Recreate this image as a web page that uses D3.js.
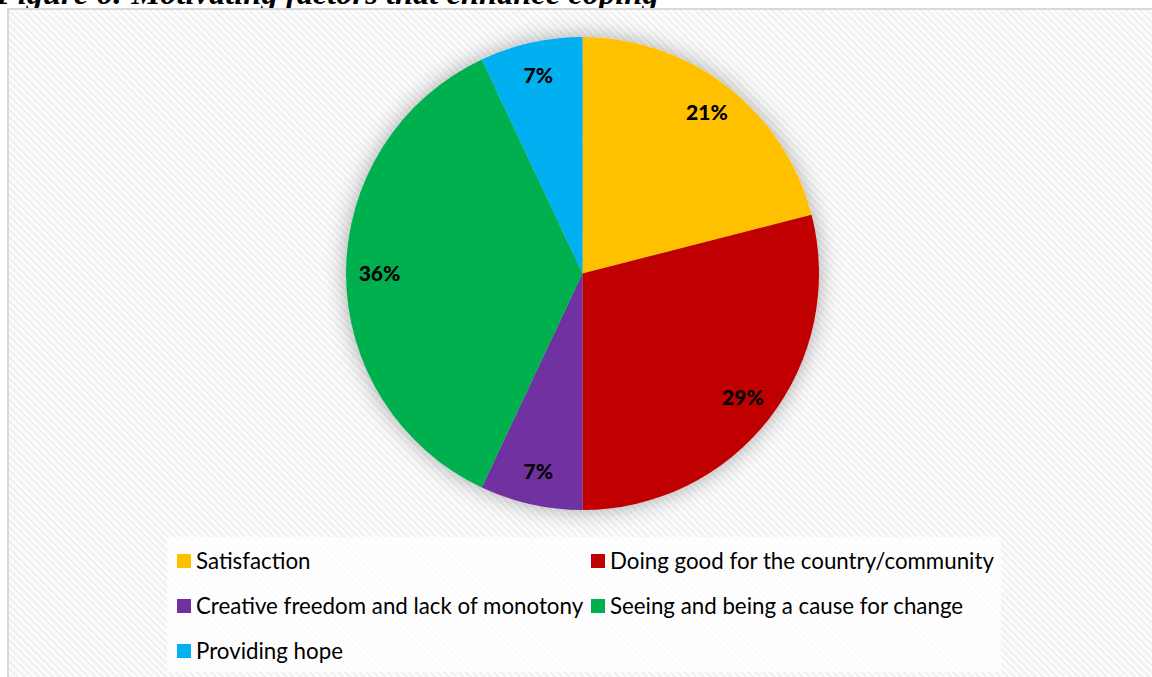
<!DOCTYPE html>
<html>
<head>
<meta charset="utf-8">
<script src="https://cdn.jsdelivr.net/npm/d3@7"></script>
<style>
  html, body { margin: 0; padding: 0; background: #ffffff; }
  svg { display: block; }
</style>
</head>
<body>
<svg id="chart" width="1152" height="677"></svg>
<script>
// Motivating factors that enhance coping (share of responses, %)
const categories = [
  "Satisfaction",
  "Doing good for the country/community",
  "Creative freedom and lack of monotony",
  "Seeing and being a cause for change",
  "Providing hope"
];
const values = [21, 29, 7, 36, 7];
const colors = ["#FFC000", "#C00000", "#7030A0", "#00B050", "#00B0F0"];
const titleText = "Figure 6: Motivating factors that enhance coping";

const W = 1152, H = 677;
const svg = d3.select("#chart");
const defs = svg.append("defs");

// Diagonal hatch used as the chart-area fill
const pat = defs.append("pattern")
  .attr("id", "hatch")
  .attr("patternUnits", "userSpaceOnUse")
  .attr("width", 5).attr("height", 5)
  .attr("patternTransform", "rotate(45)");
pat.append("rect").attr("width", 5).attr("height", 5).attr("fill", "#fdfdfd");
pat.append("rect").attr("width", 5).attr("height", 2.2).attr("fill", "#f0f0f0");

// Soft shadow around the pie
const f = defs.append("filter").attr("id", "pieShadow")
  .attr("x", "-20%").attr("y", "-20%").attr("width", "140%").attr("height", "140%");
f.append("feDropShadow")
  .attr("dx", 0).attr("dy", 0)
  .attr("stdDeviation", 11)
  .attr("flood-color", "#000")
  .attr("flood-opacity", 0.33);

// Title (sits just above the chart frame)
svg.append("text")
  .attr("x", -4).attr("y", 4)
  .attr("font-family", "'Liberation Serif', 'DejaVu Serif', serif")
  .attr("font-weight", "bold")
  .attr("font-style", "italic")
  .attr("font-size", 32.5)
  .attr("fill", "#000")
  .text(titleText);

// Chart frame
svg.append("rect")
  .attr("x", 8).attr("y", 9)
  .attr("width", W + 10).attr("height", H + 10)
  .attr("fill", "url(#hatch)")
  .attr("stroke", "#d9d9d9")
  .attr("stroke-width", 2);

// Pie
const cx = 582.5, cy = 273.5, R = 236.5;
const pie = d3.pie().sort(null).value(d => d);
const arcs = pie(values);
const arc = d3.arc().innerRadius(0).outerRadius(R);
const labelArc = d3.arc().innerRadius(203).outerRadius(203);

const g = svg.append("g").attr("transform", `translate(${cx},${cy})`);
g.append("g").attr("filter", "url(#pieShadow)")
  .selectAll("path")
  .data(arcs)
  .join("path")
  .attr("d", arc)
  .attr("fill", (d, i) => colors[i]);

g.selectAll("text.lbl")
  .data(arcs)
  .join("text")
  .attr("class", "lbl")
  .attr("transform", d => `translate(${labelArc.centroid(d)})`)
  .attr("text-anchor", "middle")
  .attr("dy", "0.35em")
  .attr("font-family", "Lato, 'Open Sans', sans-serif")
  .attr("font-weight", "900")
  .attr("font-size", 21)
  .attr("fill", "#000")
  .text(d => d.data + "%");

// Legend
const legendX = 167, legendY = 537, legendW = 834, legendH = 135;
svg.append("rect")
  .attr("x", legendX).attr("y", legendY)
  .attr("width", legendW).attr("height", legendH)
  .attr("fill", "#ffffff").attr("opacity", 0.75);

const colX = [177, 591];
const rowY = [561, 606, 651];
const legend = svg.append("g");
categories.forEach((c, i) => {
  const col = i % 2, row = Math.floor(i / 2);
  const x = colX[col], y = rowY[row];
  legend.append("rect")
    .attr("x", x).attr("y", y - 7)
    .attr("width", 14).attr("height", 14)
    .attr("fill", colors[i]);
  legend.append("text")
    .attr("x", x + 19).attr("y", y)
    .attr("dy", "0.35em")
    .attr("font-family", "Lato, 'Open Sans', sans-serif")
    .attr("font-size", 22.3)
    .attr("fill", "#000")
    .text(c);
});
</script>
</body>
</html>
